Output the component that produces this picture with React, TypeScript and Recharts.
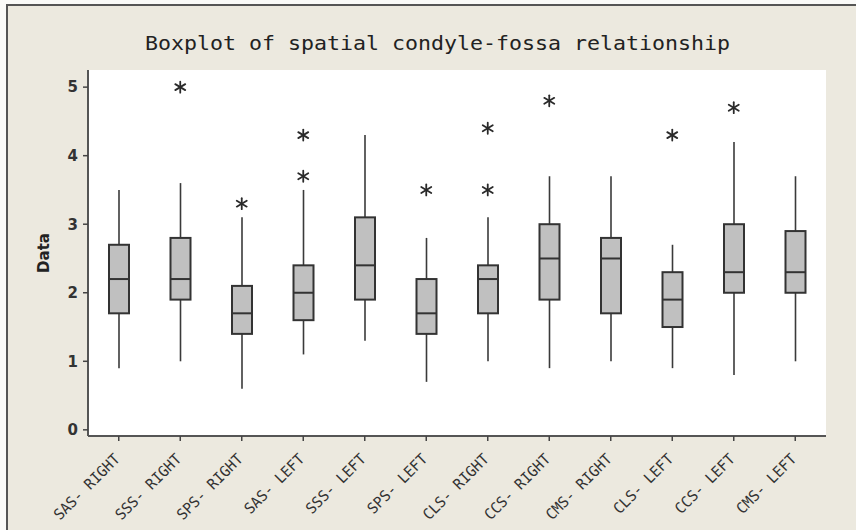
import React from "react";
import { ComposedChart, Bar, Line, XAxis, YAxis, CartesianGrid } from "recharts";

// Groups along the x axis
const categories = [
  "SAS- RIGHT",
  "SSS- RIGHT",
  "SPS- RIGHT",
  "SAS- LEFT",
  "SSS- LEFT",
  "SPS- LEFT",
  "CLS- RIGHT",
  "CCS- RIGHT",
  "CMS- RIGHT",
  "CLS- LEFT",
  "CCS- LEFT",
  "CMS- LEFT",
];

// Five-number summaries per group
const whiskerLow = [0.9, 1.0, 0.6, 1.1, 1.3, 0.7, 1.0, 0.9, 1.0, 0.9, 0.8, 1.0];
const q1 = [1.7, 1.9, 1.4, 1.6, 1.9, 1.4, 1.7, 1.9, 1.7, 1.5, 2.0, 2.0];
const median = [2.2, 2.2, 1.7, 2.0, 2.4, 1.7, 2.2, 2.5, 2.5, 1.9, 2.3, 2.3];
const q3 = [2.7, 2.8, 2.1, 2.4, 3.1, 2.2, 2.4, 3.0, 2.8, 2.3, 3.0, 2.9];
const whiskerHigh = [3.5, 3.6, 3.1, 3.5, 4.3, 2.8, 3.1, 3.7, 3.7, 2.7, 4.2, 3.7];

// Outliers (up to two per group)
const outlierA: (number | null)[] = [null, 5.0, 3.3, 4.3, null, 3.5, 4.4, 4.8, null, 4.3, 4.7, null];
const outlierB: (number | null)[] = [null, null, null, 3.7, null, null, 3.5, null, null, null, null, null];

const yTicks = [0, 1, 2, 3, 4, 5];
const yDomain: [number, number] = [-0.09, 5.25];

const data = categories.map((name, i) => ({
  name,
  range: [whiskerLow[i], whiskerHigh[i]],
  low: whiskerLow[i],
  q1: q1[i],
  median: median[i],
  q3: q3[i],
  high: whiskerHigh[i],
  o1: outlierA[i],
  o2: outlierB[i],
}));

const INK = "#333";
const BOX_W = 20;

// Box, whiskers and median drawn inside the [low, high] range bar
const BoxShape = (props: any) => {
  const { x, y, width, height, payload } = props;
  if (!payload || height == null) return <g />;
  const { low, q1: b1, median: md, q3: b3, high } = payload;
  const ppu = height / (high - low);
  const cx = x + width / 2;
  const toY = (v: number) => y + (high - v) * ppu;
  const yTop = toY(b3);
  const yBot = toY(b1);
  return (
    <g>
      <line x1={cx} x2={cx} y1={y} y2={yTop} stroke="#3a3a3a" strokeWidth={1.6} />
      <line x1={cx} x2={cx} y1={yBot} y2={y + height} stroke="#3a3a3a" strokeWidth={1.6} />
      <rect
        x={cx - BOX_W / 2}
        y={yTop}
        width={BOX_W}
        height={yBot - yTop}
        fill="#c0c0c0"
        stroke={INK}
        strokeWidth={2}
      />
      <line x1={cx - BOX_W / 2} x2={cx + BOX_W / 2} y1={toY(md)} y2={toY(md)} stroke={INK} strokeWidth={2} />
    </g>
  );
};

// Asterisk marker for outliers
const Asterisk = (props: any) => {
  const { cx, cy, value, index } = props;
  if (value == null || cy == null || cx == null) return <g key={`a-${index}`} />;
  return (
    <g key={`a-${index}`} stroke="#2a2a2a" strokeWidth={1.8} strokeLinecap="round">
      <line x1={cx} x2={cx} y1={cy - 5.5} y2={cy + 5.5} />
      <line x1={cx - 5} x2={cx + 5} y1={cy - 3} y2={cy + 3} />
      <line x1={cx - 5} x2={cx + 5} y1={cy + 3} y2={cy - 3} />
    </g>
  );
};

const CategoryTick = (props: any) => {
  const { x, y, payload } = props;
  const label: string = payload.value;
  const ax = x + 2;
  const ay = y + 17;
  return (
    <text
      x={ax}
      y={ay}
      transform={`rotate(-45, ${ax}, ${ay})`}
      textAnchor="end"
      fontFamily="DejaVu Sans Mono"
      fontSize={15}
      fill="#333"
      textLength={label.length * 8.6}
      lengthAdjust="spacingAndGlyphs"
    >
      {label}
    </text>
  );
};

const YLabel = (props: any) => {
  const vb = props.viewBox || { x: 0, y: 70, width: 88, height: 366 };
  const lx = vb.x + 49;
  const ly = vb.y + vb.height / 2;
  return (
    <text
      x={lx}
      y={ly}
      transform={`rotate(-90, ${lx}, ${ly})`}
      textAnchor="middle"
      fontFamily="DejaVu Sans"
      fontWeight="bold"
      fontSize={15}
      fill="#222"
    >
      Data
    </text>
  );
};

export default function App() {
  return (
    <div
      style={{
        position: "absolute",
        left: 0,
        top: 0,
        width: 856,
        height: 530,
        background: "#fafaf8",
        overflow: "hidden",
      }}
    >
      <div
        style={{
          position: "absolute",
          left: 6,
          top: 4,
          width: 900,
          height: 600,
          background: "#ECE9DF",
          borderTop: "2px solid #555",
          borderLeft: "2px solid #555",
        }}
      />
      <svg
        width={856}
        height={530}
        style={{ position: "absolute", left: 0, top: 0 }}
      >
        <text
          x={145}
          y={50}
          fontFamily="DejaVu Sans Mono"
          fontSize={19}
          fill="#222"
          textLength={585}
          lengthAdjust="spacingAndGlyphs"
        >
          Boxplot of spatial condyle-fossa relationship
        </text>
      </svg>
      <div style={{ position: "absolute", left: 0, top: 0 }}>
        <ComposedChart
          width={856}
          height={530}
          data={data}
          margin={{ top: 70, right: 30, bottom: 0, left: 0 }}
          barCategoryGap={0}
        >
          <CartesianGrid fill="#ffffff" horizontal={false} vertical={false} />
          <XAxis
            dataKey="name"
            type="category"
            interval={0}
            height={94}
            tickSize={5}
            axisLine={{ stroke: "#555", strokeWidth: 2 }}
            tickLine={{ stroke: "#444", strokeWidth: 1.5 }}
            tick={<CategoryTick />}
          />
          <XAxis
            xAxisId="top"
            dataKey="name"
            orientation="top"
            height={0}
            tick={false}
            tickLine={false}
            axisLine={{ stroke: "#555", strokeWidth: 2 }}
          />
          <YAxis
            type="number"
            domain={yDomain}
            allowDataOverflow
            ticks={yTicks}
            width={88}
            tickSize={5}
            tickMargin={5}
            axisLine={{ stroke: "#555", strokeWidth: 2 }}
            tickLine={{ stroke: "#444", strokeWidth: 1.5 }}
            tick={{ fill: "#333", fontSize: 15, fontFamily: "DejaVu Sans", fontWeight: "bold" }}
            label={<YLabel />}
          />
          <YAxis
            yAxisId="right"
            orientation="right"
            type="number"
            domain={yDomain}
            allowDataOverflow
            width={0}
            tick={false}
            tickLine={false}
            axisLine={{ stroke: "#555", strokeWidth: 2 }}
          />
          <Bar dataKey="range" shape={<BoxShape />} isAnimationActive={false} />
          <Line
            dataKey="o1"
            stroke="none"
            dot={Asterisk}
            activeDot={false}
            isAnimationActive={false}
          />
          <Line
            dataKey="o2"
            stroke="none"
            dot={Asterisk}
            activeDot={false}
            isAnimationActive={false}
          />
        </ComposedChart>
      </div>
    </div>
  );
}
